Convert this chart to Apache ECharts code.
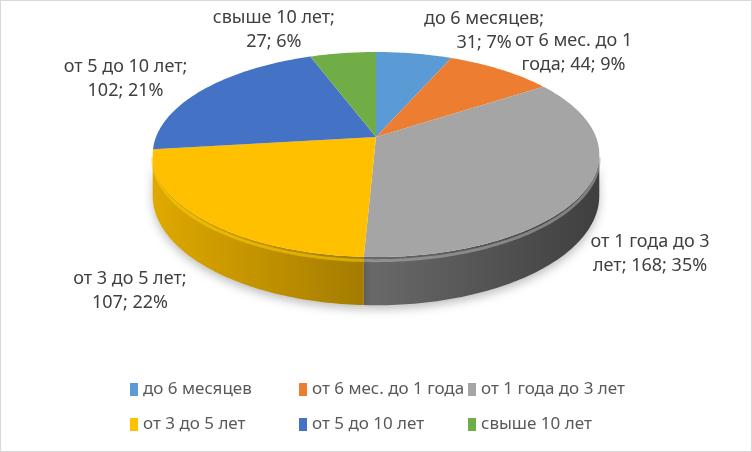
<!DOCTYPE html>
<html>
<head>
<meta charset="utf-8">
<script src="https://cdn.jsdelivr.net/npm/echarts@6/dist/echarts.min.js"></script>
<style>
html, body { margin: 0; padding: 0; background: #fff; }
#chart { width: 752px; height: 452px; box-shadow: inset 0 0 0 1px #d9d9d9; }
</style>
</head>
<body>
<div id="chart"></div>
<script>
// data
var categories = ['до 6 месяцев', 'от 6 мес. до 1 года', 'от 1 года до 3 лет',
                  'от 3 до 5 лет', 'от 5 до 10 лет', 'свыше 10 лет'];
var values = [31, 44, 168, 107, 102, 27];
var percents = [7, 9, 35, 22, 21, 6];
var colors = ['#5B9BD5', '#ED7D31', '#A5A5A5', '#FFC000', '#4472C4', '#70AD47'];
// words of the label that go on its first line
var firstLineWords = [3, 5, 5, 5, 5, 3];
// label shift from the rim point at mid angle
var labelOffsets = [[70, -23], [73, -17], [65, 63], [-75, 70], [-78, -11], [-69, -23]];

// pie geometry (perspective ellipse)
var CX = 376, CY = 137, RX = 220, RY = 99.5, K = 0.171, DEPTH = 40;
var FONT = '"Noto Sans", sans-serif';

var total = values.reduce(function (a, b) { return a + b; }, 0);
var starts = [];
var acc = 0;
values.forEach(function (v) { starts.push(acc); acc += v; });

function shade(hex, f) {
    var n = parseInt(hex.slice(1), 16);
    var rgb = [(n >> 16) & 255, (n >> 8) & 255, n & 255].map(function (v) {
        return Math.round(Math.min(255, v * f));
    });
    return 'rgb(' + rgb.join(',') + ')';
}

function toAngle(v) { return v / total * Math.PI * 2; }

// phi: clockwise from 12 o'clock, f: radius factor, drop: depth below top
function proj(phi, f, drop) {
    var s = -Math.cos(phi), c = Math.sin(phi);
    var den = 1 - K * s;
    return [CX + RX * f * c / den, CY + (RY * f * s + drop) / den];
}

function arc(a1, a2, drop, f) {
    var n = Math.max(2, Math.ceil(Math.abs(a2 - a1) / (Math.PI / 180)));
    var pts = [];
    for (var j = 0; j <= n; j++) {
        pts.push(proj(a1 + (a2 - a1) * j / n, f || 1, drop));
    }
    return pts;
}

function labelText(i) {
    var words = (categories[i] + '; ' + values[i] + '; ' + percents[i] + '%').split(' ');
    var n = firstLineWords[i];
    return words.slice(0, n).join(' ') + '\n' + words.slice(n).join(' ');
}

var sideFrom = Math.acos(-K), sideTo = Math.PI * 2 - Math.acos(-K);

function makeSeries(name, i) {
    return {
        type: 'custom',
        name: name,
        coordinateSystem: 'none',
        itemStyle: { color: colors[i] },
        data: [[starts[i], starts[i] + values[i]]],
        renderItem: function (params, api) {
            var a1 = toAngle(api.value(0)), a2 = toAngle(api.value(1));
            var base = colors[i];
            var children = [];
            var lo = Math.max(a1, sideFrom), hi = Math.min(a2, sideTo);
            if (hi > lo) {
                var side = arc(lo, hi, 0).concat(arc(hi, lo, DEPTH));
                children.push({
                    type: 'polygon',
                    shape: { points: side },
                    style: {
                        fill: {
                            type: 'linear', global: true,
                            x: CX - RX * 1.015, y: 0, x2: CX + RX * 1.015, y2: 0,
                            colorStops: [
                                { offset: 0, color: shade(base, 0.88) },
                                { offset: 1, color: shade(base, 0.38) }
                            ]
                        },
                        shadowBlur: 10,
                        shadowColor: 'rgba(0,0,0,0.25)',
                        shadowOffsetY: 4
                    }
                });
                // light bevel along the front rim
                children.push({
                    type: 'polyline',
                    shape: { points: arc(lo, hi, 3) },
                    style: { stroke: shade(base, 1.08), lineWidth: 3, opacity: 0.55, fill: null }
                });
            }
            var top = [[CX, CY]].concat(arc(a1, a2, 0));
            children.push({
                type: 'polygon',
                shape: { points: top },
                style: { fill: base }
            });
            var mid = (a1 + a2) / 2;
            var p = proj(mid, 1, 0);
            children.push({
                type: 'text',
                x: p[0] + labelOffsets[i][0],
                y: p[1] + labelOffsets[i][1],
                style: {
                    text: labelText(i),
                    fill: '#404040',
                    fontSize: 18,
                    fontFamily: FONT,
                    lineHeight: 24,
                    align: 'center',
                    verticalAlign: 'middle'
                }
            });
            return { type: 'group', children: children };
        }
    };
}

// one legend per column so the columns line up
function legendColumn(names, left) {
    return {
        data: names,
        left: left,
        top: 376,
        orient: 'vertical',
        icon: 'rect',
        itemWidth: 8,
        itemHeight: 13,
        itemGap: 18,
        selectedMode: false,
        textStyle: { fontSize: 17, color: '#595959', fontFamily: FONT }
    };
}

var chart = echarts.init(document.getElementById('chart'));
chart.setOption({
    animation: false,
    color: colors,
    legend: [
        legendColumn([categories[0], categories[3]], 125),
        legendColumn([categories[1], categories[4]], 294),
        legendColumn([categories[2], categories[5]], 463)
    ],
    series: categories.map(makeSeries)
});
</script>
</body>
</html>
